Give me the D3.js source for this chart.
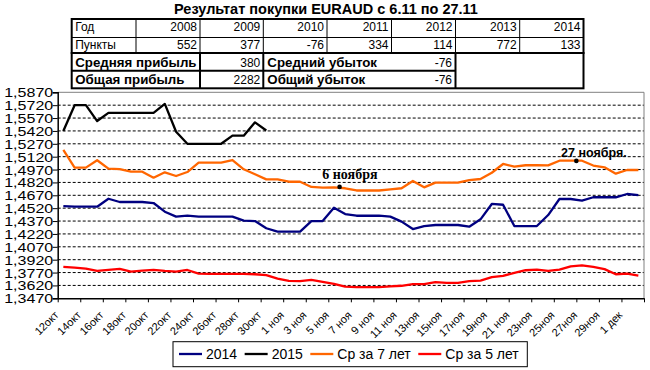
<!DOCTYPE html>
<html><head><meta charset="utf-8">
<script src="https://cdn.jsdelivr.net/npm/d3@7"></script>
<style>
body{margin:0;background:#fff;}
svg{display:block;font-family:"Liberation Sans",Arial,sans-serif;}
</style></head><body>
<svg id="c" width="650" height="370"></svg>
<script>
// ---------- data ----------
const title = "Результат покупки EURAUD с 6.11 по 27.11";
const years = ["2008","2009","2010","2011","2012","2013","2014"];
const points = [552, 377, -76, 334, 114, 772, 133];
const summaryLabels = ["Средняя прибыль","Общая прибыль","Средний убыток","Общий убыток"];
const summaryValues = [380, 2282, -76, -76];

const dates = ["12 окт","13 окт","14 окт","15 окт","16 окт","17 окт","18 окт","19 окт","20 окт","21 окт",
  "22 окт","23 окт","24 окт","25 окт","26 окт","27 окт","28 окт","29 окт","30 окт","31 окт",
  "1 ноя","2 ноя","3 ноя","4 ноя","5 ноя","6 ноя","7 ноя","8 ноя","9 ноя","10 ноя",
  "11 ноя","12 ноя","13 ноя","14 ноя","15 ноя","16 ноя","17 ноя","18 ноя","19 ноя","20 ноя",
  "21 ноя","22 ноя","23 ноя","24 ноя","25 ноя","26 ноя","27 ноя","28 ноя","29 ноя","30 ноя",
  "1 дек","2 дек"];
const tickLabels = ["12окт","14окт","16окт","18окт","20окт","22окт","24окт","26окт","28окт","30окт",
  "1 ноя","3 ноя","5 ноя","7 ноя","9 ноя","11 ноя","13ноя","15ноя","17ноя","19ноя",
  "21 ноя","23ноя","25ноя","27ноя","29ноя","1 дек"];
const yTicks = [1.3470,1.3620,1.3770,1.3920,1.4070,1.4220,1.4370,1.4520,1.4670,1.4820,
  1.4970,1.5120,1.5270,1.5420,1.5570,1.5720,1.5870];

const s2014 = [1.4545,1.4537,1.4537,1.4537,1.4630,1.4592,1.4592,1.4592,1.4580,1.4479,
  1.4421,1.4432,1.4421,1.4421,1.4421,1.4421,1.4374,1.4370,1.4286,1.4246,
  1.4246,1.4246,1.4370,1.4370,1.4525,1.4452,1.4432,1.4432,1.4432,1.4421,
  1.4363,1.4277,1.4312,1.4324,1.4324,1.4324,1.4304,1.4390,1.4569,1.4560,
  1.4312,1.4312,1.4312,1.4440,1.4627,1.4627,1.4607,1.4647,1.4647,1.4647,
  1.4685,1.4673];
const s2015 = [1.5420,1.5720,1.5720,1.5535,1.5630,1.5630,1.5630,1.5630,1.5630,1.5735,
  1.5410,1.5270,1.5270,1.5270,1.5270,1.5365,1.5365,1.5520,1.5425];
const avg7 = [1.5198,1.4992,1.4992,1.5078,1.4980,1.4976,1.4945,1.4945,1.4875,1.4938,
  1.4895,1.4941,1.5050,1.5050,1.5050,1.5081,1.4973,1.4915,1.4856,1.4856,
  1.4828,1.4828,1.4767,1.4759,1.4763,1.4752,1.4726,1.4726,1.4726,1.4740,
  1.4752,1.4837,1.4763,1.4817,1.4817,1.4817,1.4848,1.4860,1.4933,1.5035,
  1.5003,1.5020,1.5020,1.5018,1.5073,1.5073,1.5073,1.5017,1.4996,1.4922,
  1.4965,1.4965];
const avg5 = [1.3835,1.3827,1.3816,1.3789,1.3800,1.3812,1.3781,1.3793,1.3800,1.3789,
  1.3781,1.3800,1.3758,1.3754,1.3754,1.3754,1.3754,1.3750,1.3739,1.3700,
  1.3673,1.3670,1.3685,1.3662,1.3639,1.3606,1.3600,1.3600,1.3600,1.3608,
  1.3616,1.3635,1.3635,1.3658,1.3650,1.3650,1.3670,1.3677,1.3716,1.3731,
  1.3766,1.3797,1.3804,1.3789,1.3804,1.3843,1.3854,1.3835,1.3810,1.3750,
  1.3758,1.3735];
const seriesNames = ["2014","2015","Ср за 7 лет","Ср за 5 лет"];
const seriesColors = ["#000080","#000000","#FF6600","#FF0000"];
const seriesData = [s2014, s2015, avg7, avg5];

const annotDates = ["6 ноя","27 ноя"];
const annotValues = [1.4768, 1.5071];
const annotTexts = ["6 ноября","27 ноября."];

// ---------- drawing ----------
const svg = d3.select("#c");
const L = 57.7, R = 644, T = 92.3, B = 298.3;

const x = d3.scaleLinear().domain([0, dates.length]).range([L, R]);
const y = d3.scaleLinear().domain([yTicks[0], yTicks[yTicks.length-1]]).range([B, T]);
const cx = i => x(i + 0.5);

// title
svg.append("text").attr("x", 326).attr("y", 14).attr("text-anchor","middle")
  .attr("font-size","14.5px").attr("font-weight","bold").text(title);

// table
const cols = [71.7,136,200,263.3,327,391.5,455.5,519.7,583.5];
const rows = [19,37.5,53,70.7,88.3];
const tb = svg.append("g");
function ln(x1,y1,x2,y2,w){ tb.append("line").attr("x1",x1).attr("y1",y1).attr("x2",x2).attr("y2",y2)
  .attr("stroke","#000").attr("stroke-width",w); }
// rows 1-2
ln(cols[0],rows[1],cols[8],rows[1],1);
for (let c=1;c<8;c++) ln(cols[c],rows[0],cols[c],rows[2],1);
tb.append("rect").attr("x",cols[0]).attr("y",rows[0]).attr("width",cols[8]-cols[0]).attr("height",rows[2]-rows[0])
  .attr("fill","none").attr("stroke","#000").attr("stroke-width",2);
// rows 3-4
tb.append("rect").attr("x",cols[0]).attr("y",rows[2]).attr("width",cols[8]-cols[0]).attr("height",rows[4]-rows[2])
  .attr("fill","none").attr("stroke","#000").attr("stroke-width",2);
ln(cols[0],rows[3],cols[6],rows[3],2);
[2,3,6].forEach(c=>ln(cols[c],rows[2],cols[c],rows[4],2));

function tx(xp,yp,s,anchor,bold,size){ tb.append("text").attr("x",xp).attr("y",yp)
  .attr("text-anchor",anchor).attr("font-size",size).attr("font-weight",bold?"bold":"normal").text(s); }
tx(cols[0]+3.5, 31, "Год", "start", false, "12px");
tx(cols[0]+3.5, 49.3, "Пункты", "start", false, "12px");
years.forEach((yr,i)=>tx(cols[i+2]-3, 31, yr, "end", false, "12px"));
points.forEach((p,i)=>tx(cols[i+2]-3, 49.3, String(p), "end", false, "12px"));
const sb = [66.5, 84];
tx(cols[0]+3.5, sb[0], summaryLabels[0], "start", true, "13.3px");
tx(cols[0]+3.5, sb[1], summaryLabels[1], "start", true, "13.3px");
tx(cols[3]-3, sb[0], String(summaryValues[0]), "end", false, "12px");
tx(cols[3]-3, sb[1], String(summaryValues[1]), "end", false, "12px");
tx(cols[3]+4, sb[0], summaryLabels[2], "start", true, "13.3px");
tx(cols[3]+4, sb[1], summaryLabels[3], "start", true, "13.3px");
tx(cols[6]-3.5, sb[0], String(summaryValues[2]), "end", false, "12px");
tx(cols[6]-3.5, sb[1], String(summaryValues[3]), "end", false, "12px");

// gridlines
svg.append("g").selectAll("line").data(yTicks.slice(1, -1)).join("line")
  .attr("x1", L).attr("x2", R).attr("y1", d=>y(d)).attr("y2", d=>y(d))
  .attr("stroke","#000").attr("stroke-width",1).attr("stroke-dasharray","3,2");

// plot border (top/right gray)
svg.append("path").attr("d",`M${L},${T}H${R}V${B}`).attr("fill","none").attr("stroke","#808080").attr("stroke-width",1);

// y axis
const ya = svg.append("g").attr("transform",`translate(${L},0)`)
  .call(d3.axisLeft(y).tickValues(yTicks).tickSize(5).tickPadding(0)
    .tickFormat(d=>d.toFixed(4).replace(".",",")));
ya.select(".domain").attr("stroke","#000").attr("stroke-width",1.5);
ya.selectAll(".tick line").attr("stroke","#000");
ya.selectAll("text").attr("font-size","12.5px").attr("fill","#000")
  .attr("font-family","'Liberation Sans',Arial,sans-serif")
  .attr("textLength",49).attr("lengthAdjust","spacingAndGlyphs")
  .attr("x",-4.5).attr("dy","0.36em");

// x axis
const xTickVals = d3.range(0, dates.length + 1, 2);
const xa = svg.append("g").attr("transform",`translate(0,${B})`)
  .call(d3.axisBottom(x).tickValues(xTickVals).tickSize(4).tickSizeOuter(0)
    .tickFormat((d,i)=> tickLabels[i] || ""));
xa.select(".domain").attr("stroke","#000").attr("stroke-width",1.5);
xa.selectAll(".tick line").attr("stroke","#000");
xa.selectAll("text").attr("font-size","11px").attr("fill","#000")
  .attr("font-family","'Liberation Sans',Arial,sans-serif")
  .attr("text-anchor","end").attr("x",0).attr("y",0).attr("dy",0)
  .attr("transform","translate(1,17.5) rotate(-45)");

// lines
const line = d3.line().x((d,i)=>cx(i)).y(d=>y(d));
const lg = svg.append("g");
[3,2,0,1].forEach(k=>{
  lg.append("path").datum(seriesData[k]).attr("d", line)
    .attr("fill","none").attr("stroke", seriesColors[k]).attr("stroke-width",2.3)
    .attr("stroke-linejoin","round").attr("stroke-linecap","butt");
});

// annotations
annotDates.forEach((dname,k)=>{
  const xi = x(dates.indexOf(dname));
  const yi = y(annotValues[k]);
  svg.append("circle").attr("cx",xi).attr("cy",yi).attr("r",2.3).attr("fill","#000");
  if (k===0) {
    svg.append("text").attr("x",xi-17.3).attr("y",yi-8).attr("font-size","14px").attr("font-weight","bold")
      .attr("font-family","'Liberation Serif','Times New Roman',serif").text(annotTexts[k]);
  } else {
    svg.append("text").attr("x",xi-15.3).attr("y",yi-4.3).attr("font-size","12.5px").attr("font-weight","bold")
      .text(annotTexts[k]);
  }
});

// legend
const leg = svg.append("g");
leg.append("rect").attr("x",173).attr("y",341.7).attr("width",354.3).attr("height",25)
  .attr("fill","#fff").attr("stroke","#000").attr("stroke-width",1);
let lx = 179;
seriesNames.forEach((nm,k)=>{
  leg.append("line").attr("x1",lx).attr("x2",lx+23).attr("y1",354).attr("y2",354)
    .attr("stroke",seriesColors[k]).attr("stroke-width",2.3);
  const t = leg.append("text").attr("x",lx+27).attr("y",359).attr("font-size","14px").text(nm);
  lx = lx + 27 + t.node().getComputedTextLength() + 7.5;
});
</script>
</body></html>
